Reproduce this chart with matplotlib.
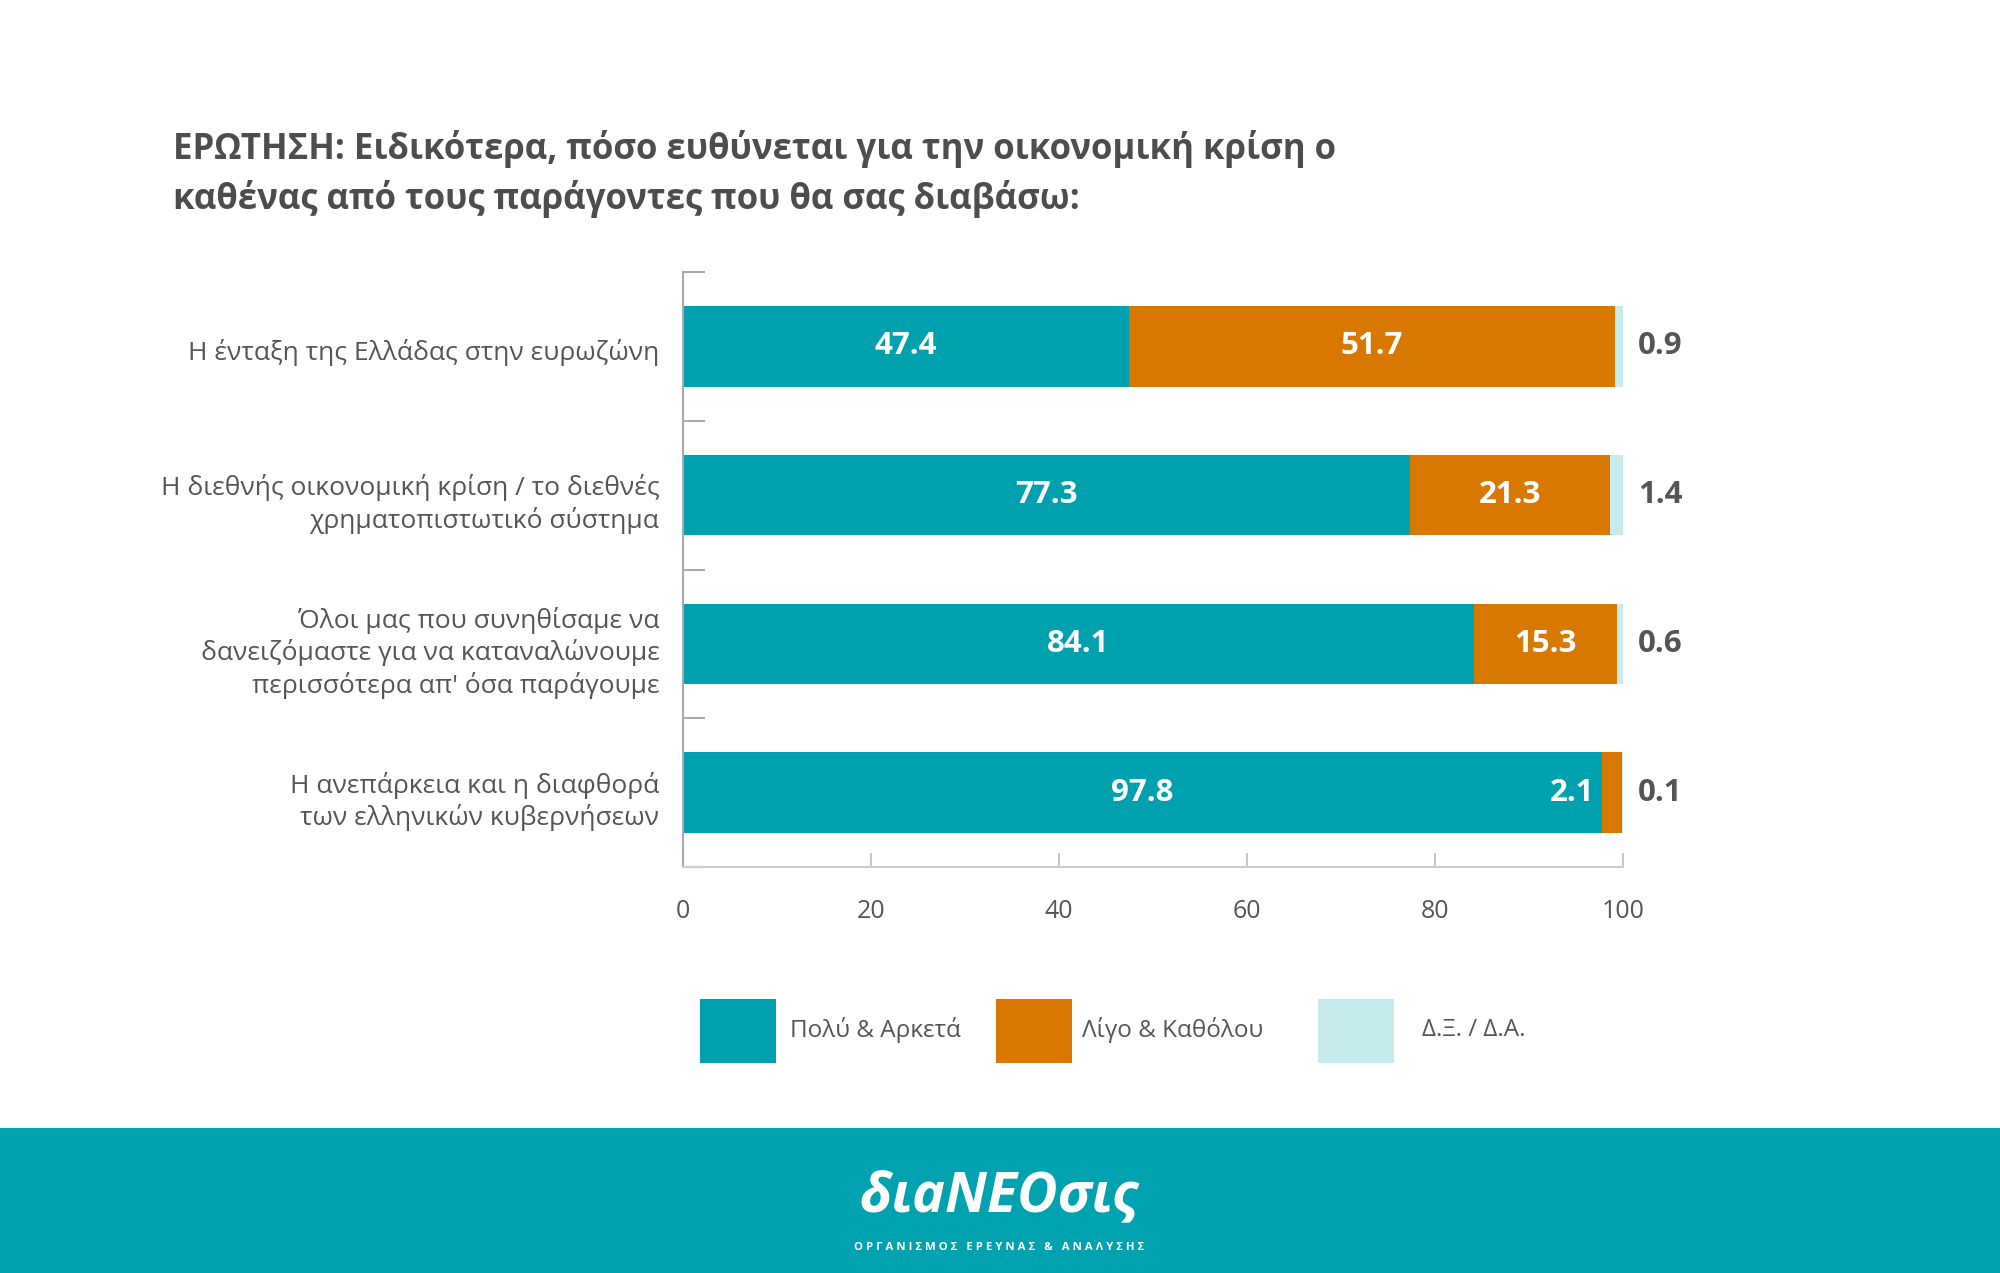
import matplotlib
matplotlib.use("Agg")
import matplotlib.pyplot as plt
from matplotlib.patches import Rectangle
from matplotlib.transforms import ScaledTranslation
import numpy as np

# ---------------- data ----------------
categories = [
    "Η ένταξη της Ελλάδας στην ευρωζώνη",
    "Η διεθνής οικονομική κρίση / το διεθνές\nχρηματοπιστωτικό σύστημα",
    "Όλοι μας που συνηθίσαμε να\nδανειζόμαστε για να καταναλώνουμε\nπερισσότερα απ' όσα παράγουμε",
    "Η ανεπάρκεια και η διαφθορά\nτων ελληνικών κυβερνήσεων",
]
much = [47.4, 77.3, 84.1, 97.8]
little = [51.7, 21.3, 15.3, 2.1]
dkna = [0.9, 1.4, 0.6, 0.1]
series_names = ["Πολύ & Αρκετά", "Λίγο & Καθόλου", "Δ.Ξ. / Δ.Α."]
xticks = [0, 20, 40, 60, 80, 100]
title = ("ΕΡΩΤΗΣΗ: Ειδικότερα, πόσο ευθύνεται για την οικονομική κρίση ο\n"
         "καθένας από τους παράγοντες που θα σας διαβάσω:")
logo = "διaΝΕΟσις"
logo_sub = "Ο Ρ Γ Α Ν Ι Σ Μ Ο Σ   Ε Ρ Ε Υ Ν Α Σ   &   Α Ν Α Λ Υ Σ Η Σ"

# ---------------- style ----------------
TEAL = "#00A1AF"
ORANGE = "#D97800"
LIGHT = "#C6EBEC"
GRAY = "#555555"
FONT = ["Open Sans", "DejaVu Sans"]
plt.rcParams["font.family"] = FONT

W, H = 2000, 1273
fig = plt.figure(figsize=(W / 100, H / 100), dpi=100)
fig.patch.set_facecolor("white")

def fx(px):
    return px / W

def fy(py):
    return 1 - py / H

ax = fig.add_axes([fx(683), fy(867), (1623 - 683) / W, (867 - 272) / H])

y = np.arange(len(categories))
much_a = np.array(much)
little_a = np.array(little)
dk_a = np.array(dkna)
bh = 0.54
ax.barh(y, much_a, height=bh, color=TEAL, edgecolor="none")
ax.barh(y, little_a, left=much_a, height=bh, color=ORANGE, edgecolor="none")
ax.barh(y, dk_a, left=much_a + little_a, height=bh, color=LIGHT, edgecolor="none")

ax.set_xlim(0, 100)
ax.set_ylim(3.5, -0.5)

VS = 22.5
# value labels
for i in range(len(categories)):
    ax.text(much_a[i] / 2, y[i], f"{much_a[i]:.1f}", ha="center", va="center",
            color="white", fontsize=VS, fontweight="bold")
    if little_a[i] >= 5:
        ax.text(much_a[i] + little_a[i] / 2, y[i], f"{little_a[i]:.1f}", ha="center",
                va="center", color="white", fontsize=VS, fontweight="bold")
    else:
        ax.text(much_a[i] - 0.8, y[i], f"{little_a[i]:.1f}", ha="right",
                va="center", color="white", fontsize=VS, fontweight="bold")
    ax.text(101.6, y[i], f"{dk_a[i]:.1f}", ha="left", va="center",
            color=GRAY, fontsize=VS, fontweight="bold")

# axes styling
for s in ["top", "right"]:
    ax.spines[s].set_visible(False)
ax.spines["left"].set_color("#aaaaaa")
ax.spines["left"].set_linewidth(1.5)
ax.spines["bottom"].set_color("#cccccc")
ax.spines["bottom"].set_linewidth(1.5)

ax.set_yticks(y)
ax.set_yticklabels(categories, fontsize=19, color=GRAY, linespacing=1.27)
ax.tick_params(axis="y", which="major", length=0, pad=17)
ax.set_yticks([-0.5, 0.5, 1.5, 2.5, 3.5], minor=True)
ax.tick_params(axis="y", which="minor", direction="in", length=16, width=1.5,
               color="#aaaaaa")
shift = ScaledTranslation(0, -3 / 100, fig.dpi_scale_trans)
for lab in ax.get_yticklabels():
    lab.set_transform(lab.get_transform() + shift)

ax.set_xticks(xticks)
ax.set_xticklabels([str(t) for t in xticks], fontsize=18, color=GRAY)
ax.tick_params(axis="x", direction="in", length=10, width=1.2, color="#bbbbbb",
               pad=23)

# title
fig.text(fx(173), fy(174), title, ha="left", va="center", fontsize=25,
         fontweight="bold", color="#4d4d4d", linespacing=1.42)

# legend (manual)
leg = [(700, TEAL, 790), (996, ORANGE, 1082), (1318, LIGHT, 1422)]
for (x0, col, tx), name in zip(leg, series_names):
    fig.patches.append(Rectangle((fx(x0), fy(1063)), 76 / W, 64 / H,
                                 transform=fig.transFigure, facecolor=col,
                                 edgecolor="none"))
    fig.text(fx(tx), fy(1030), name, ha="left", va="center", fontsize=17.5,
             color=GRAY)

# footer band
fig.patches.append(Rectangle((0, 0), 1, (H - 1128) / H, transform=fig.transFigure,
                             facecolor="#00A2AF", edgecolor="none"))
fig.text(fx(999), fy(1197), logo, ha="center", va="center", fontsize=40,
         fontweight="bold", style="italic", color="white")
fig.text(fx(999), fy(1247), logo_sub, ha="center", va="center", fontsize=8.2,
         fontweight="bold", color="white")

fig.savefig("out.png", dpi=100)
